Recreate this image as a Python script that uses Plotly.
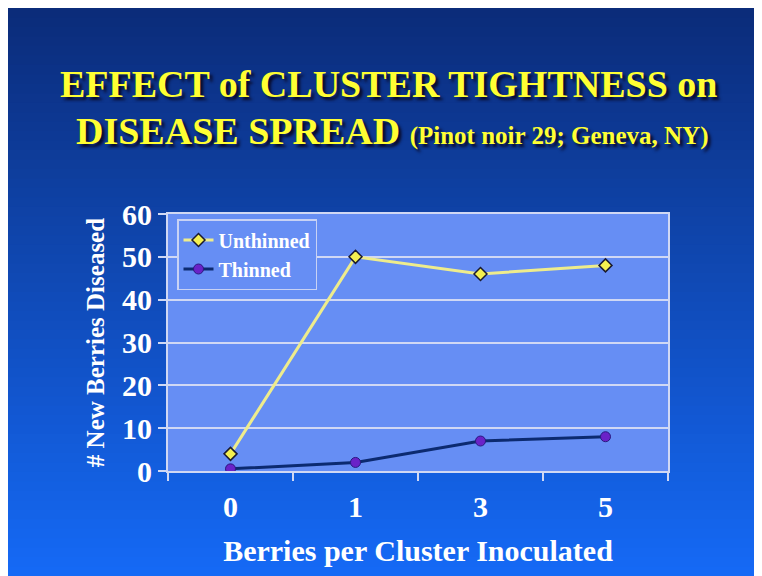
import plotly.graph_objects as go

categories = ["0", "1", "3", "5"]
unthinned = [4, 50, 46, 48]
thinned = [0.5, 2, 7, 8]
y_ticks = [0, 10, 20, 30, 40, 50, 60]

# page has an 8px body margin; figure sized to fill the rest of the window
W, H = 754, 568
OFF = 8
serif = "Liberation Serif, Times New Roman, serif"

# plot area in page pixels
pl, pr, pt, pb = 168 - OFF, 668 - OFF, 214 - OFF, 471 - OFF
pw, ph = pr - pl, pb - pt

def fx(px):  # page x -> paper x
    return (px - OFF - pl) / pw

def fy(py):  # page y -> paper y
    return (pb - (py - OFF)) / ph

fig = go.Figure()
fig.add_trace(go.Scatter(
    x=categories, y=unthinned, name="Unthinned", mode="lines+markers",
    line=dict(color="#eeec8c", width=3),
    marker=dict(symbol="diamond", size=10, color="#f4f050", line=dict(color="#1a1a30", width=1.5)),
))
fig.add_trace(go.Scatter(
    x=categories, y=thinned, name="Thinned", mode="lines+markers",
    line=dict(color="#0c2a70", width=3),
    marker=dict(symbol="circle", size=10, color="#6a22c8", line=dict(color="#2a1a80", width=1)),
))

# slide background gradient
top = (11, 44, 122)
bot = (21, 105, 245)
n = 60
for i in range(n):
    t = i / (n - 1)
    c = tuple(int(round(top[k] + (bot[k] - top[k]) * t)) for k in range(3))
    ya = OFF + H * i / n
    yb = OFF + H * (i + 1) / n + 1
    fig.add_shape(type="rect", xref="paper", yref="paper",
                  x0=fx(0), x1=fx(OFF + W + 4),
                  y0=fy(yb), y1=fy(ya),
                  line=dict(width=0), fillcolor="rgb(%d,%d,%d)" % c, layer="below")
# plot area fill
fig.add_shape(type="rect", xref="paper", yref="paper", x0=0, x1=1, y0=0, y1=1,
              line=dict(width=0), fillcolor="#668ef4", layer="below")

title_font = dict(family=serif, size=38, color="#ffff33", weight="bold",
                  shadow="3px 3px 3px #0a0a28")
fig.add_annotation(text="EFFECT of CLUSTER TIGHTNESS on", xref="paper", yref="paper",
                   x=fx(388), y=fy(84), showarrow=False,
                   font=title_font, xanchor="center", yanchor="middle")
fig.add_annotation(text="DISEASE SPREAD <span style='font-size:25px'>(Pinot noir 29; Geneva, NY)</span>",
                   xref="paper", yref="paper",
                   x=fx(74), y=fy(131), showarrow=False,
                   font=title_font, xanchor="left", yanchor="middle")

fig.update_layout(
    width=W, height=H,
    margin=dict(l=pl, r=W - pr, t=pt, b=H - pb),
    paper_bgcolor="rgb(16,74,180)",
    plot_bgcolor="rgba(0,0,0,0)",
    showlegend=True,
    legend=dict(x=fx(177), y=fy(219), xanchor="left", yanchor="top",
                bgcolor="#668ef4", bordercolor="#c8d2f4", borderwidth=1.5,
                font=dict(family=serif, size=20, color="white", weight="bold"),
                tracegroupgap=0, itemwidth=30),
    xaxis=dict(type="category", categoryorder="array", categoryarray=categories,
               range=[-0.5, len(categories) - 0.5],
               tickson="boundaries", ticks="outside", ticklen=8, tickcolor="#d0d8f4",
               tickwidth=2, showgrid=False, showline=True, linecolor="#d0d8f4", linewidth=2,
               mirror=True, zeroline=False, ticklabelstandoff=8,
               tickfont=dict(family=serif, size=30, color="white", weight="bold"),
               title=dict(text="Berries per Cluster Inoculated", standoff=18,
                          font=dict(family=serif, size=30, color="white", weight="bold"))),
    yaxis=dict(range=[0, 60], tickvals=y_ticks, ticks="outside", ticklen=8,
               tickcolor="#d0d8f4", tickwidth=2, showgrid=True, gridcolor="#d0d8f4",
               gridwidth=2, showline=True, linecolor="#d0d8f4", linewidth=2, mirror=True,
               zeroline=False,
               tickfont=dict(family=serif, size=30, color="white", weight="bold"),
               title=dict(text="# New Berries Diseased", standoff=10,
                          font=dict(family=serif, size=25, color="white", weight="bold"))),
)

fig.write_html("out.html")
